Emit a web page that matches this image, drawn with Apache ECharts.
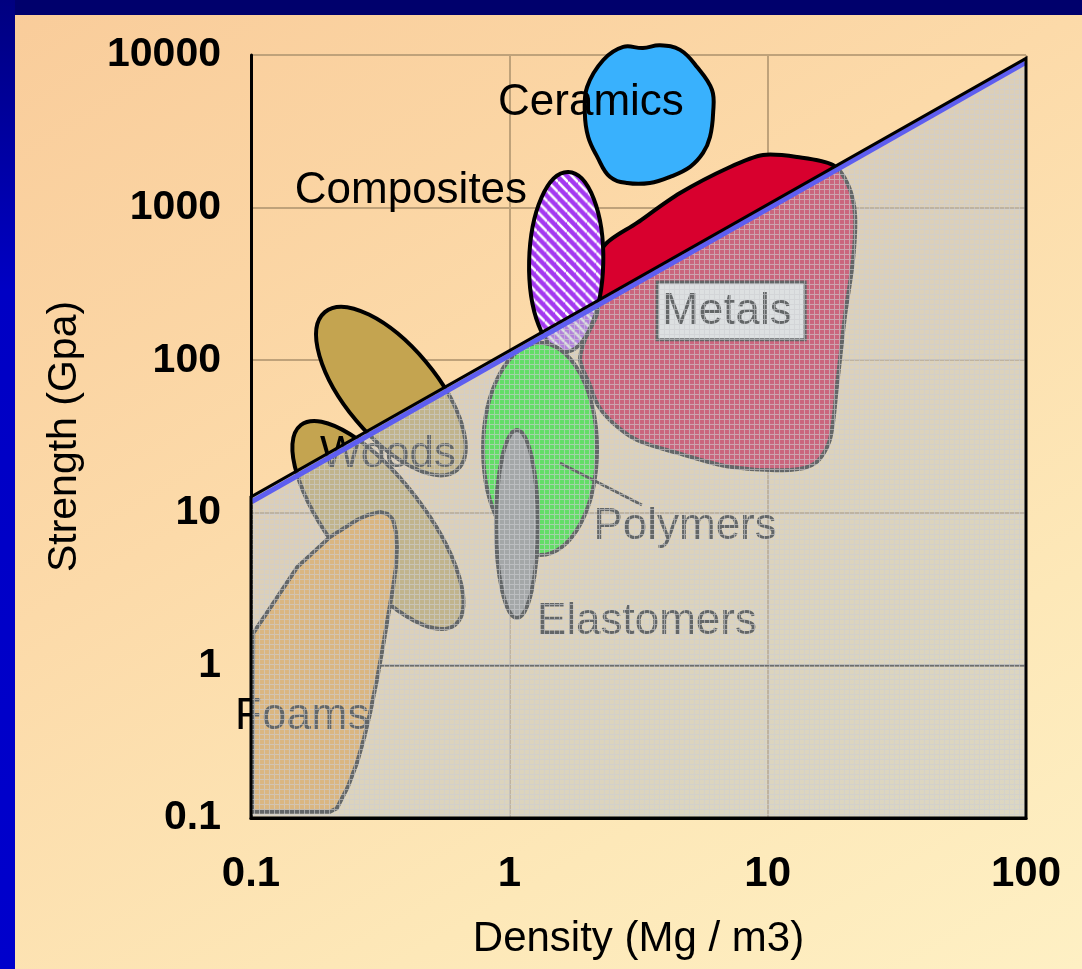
<!DOCTYPE html>
<html>
<head>
<meta charset="utf-8">
<title>Strength vs Density</title>
<script src="https://cdn.jsdelivr.net/npm/echarts@6.0.0/dist/echarts.min.js"></script>
<style>
  html, body { margin: 0; padding: 0; width: 1082px; height: 969px; overflow: hidden; }
  #slide {
    position: relative; width: 1082px; height: 969px;
    background: linear-gradient(150deg, #f9cc9a 0%, #fcdaa9 40%, #fde8b8 75%, #fef0c4 100%);
  }
  #topbar { position: absolute; left: 0; top: 0; width: 1082px; height: 15px; background: #00006c; }
  #leftbar { position: absolute; left: 0; top: 0; width: 15px; height: 969px;
    background: linear-gradient(to bottom, #000080, #0000c4 30%, #0000cc); }
  #chart { position: absolute; left: 0; top: 0; width: 1082px; height: 969px; }
</style>
</head>
<body>
<div id="slide">
  <div id="topbar"></div>
  <div id="leftbar"></div>
  <div id="chart"></div>
</div>
<script>
// tick labels
const xTickLabels = ['0.1', '1', '10', '100']
const yTickLabels = ['0.1', '1', '10', '100', '1000', '10000']

// outlines, [density, strength]
const ceramicsOutline = [
  [2.31, 9270], [2.76, 11300], [3.29, 11100], [3.83, 11600], [4.58, 10800],
  [5.33, 8340], [6.09, 5900], [6.15, 4170], [5.98, 2900], [5.62, 2280],
  [5.01, 1850], [4.19, 1590], [3.5, 1450], [2.86, 1450], [2.45, 1590],
  [2.19, 2150], [2.02, 2900], [1.96, 4170], [2.0, 6170]
]
const metalsOutline = [
  [2.31, 552], [3.12, 793], [4.58, 1246], [7.15, 1846], [9.6, 2212],
  [13.0, 2146], [17.9, 1902], [20.5, 1406], [21.8, 894], [21.4, 454],
  [19.9, 192], [18.6, 71], [17.4, 30], [15.3, 21.2], [12.2, 19.1],
  [7.15, 20], [4.46, 24.7], [3.12, 30], [2.52, 38.8], [2.2, 50.9],
  [2.05, 68.8], [1.88, 100], [1.96, 136], [2.19, 204], [2.24, 336]
]
const foamsOutline = [
  [0.101, 0.11], [0.102, 1.63], [0.115, 2.2], [0.151, 4.41], [0.202, 6.94],
  [0.257, 8.97], [0.284, 9.67], [0.316, 10.1], [0.339, 9.82], [0.355, 8.97],
  [0.364, 7.48], [0.367, 5.97], [0.364, 4.41], [0.355, 3.27], [0.339, 2.08],
  [0.324, 1.32], [0.307, 0.80], [0.289, 0.488], [0.274, 0.334], [0.257, 0.229],
  [0.237, 0.16], [0.215, 0.116], [0.202, 0.11]
]

// ellipses: centre, end of long axis, end of short axis
const compositesEllipse = [[1.66, 440], [1.69, 1711], [2.31, 440]]
const woodsEllipseA = [[0.348, 62.8], [0.627, 19.1], [0.476, 97.3]]
const woodsEllipseB = [[0.31, 8.32], [0.616, 1.84], [0.431, 12.9]]
const polymersEllipse = [[1.315, 26.2], [1.315, 130], [2.185, 26.2]]
const elastomersEllipse = [[1.07, 8.45], [1.07, 34.9], [1.29, 8.45]]

// guide line and shaded zone below it
const limitLine = [[0.1, 12.7], [100, 9500]]
const shadeOutline = [[0.1, 0.1], [0.1, 12.7], [100, 9500], [100, 0.1]]
const unitLine = [[0.1, 1], [100, 1]]

// labels
const labelNames = ['Ceramics', 'Composites', 'Metals', 'Woods', 'Polymers', 'Elastomers', 'Foams']
const labelPoints = [
  [2.07, 4850], [0.416, 1290], [6.96, 207], [0.339, 23.9],
  [4.79, 8.07], [3.41, 1.92], [0.158, 0.459]
]
const metalsBox = [[3.73, 326], [13.96, 136]]
const polymersPointer = [[1.57, 21.2], [3.26, 11.25]]

// fill patterns
function stripes () {
  const c = document.createElement('canvas')
  c.width = 10; c.height = 10
  const g = c.getContext('2d')
  g.fillStyle = '#a438f0'
  g.fillRect(0, 0, 10, 10)
  g.strokeStyle = '#ffffff'
  g.lineWidth = 2.6
  for (const k of [-10, 0, 10]) {
    g.beginPath(); g.moveTo(k, 10); g.lineTo(k + 10, 0); g.stroke()
  }
  return c
}
function mesh () {
  const c = document.createElement('canvas')
  c.width = 5; c.height = 5
  const g = c.getContext('2d')
  g.fillStyle = 'rgba(190,196,198,0.52)'
  g.fillRect(0, 0, 5, 5)
  g.fillStyle = 'rgba(205,205,210,0.6)'
  g.fillRect(4, 0, 1, 5)
  g.fillRect(0, 4, 4, 1)
  return c
}
const stripePattern = { image: stripes(), repeat: 'repeat' }
const meshPattern = { image: mesh(), repeat: 'repeat' }

const OUTLINE = { stroke: '#000', lineWidth: 4 }

function polySeries (pts, fill, smooth) {
  return {
    type: 'custom', clip: false, silent: true, data: pts,
    renderItem: (params, api) => params.dataIndex ? null : {
      type: 'polygon',
      shape: { points: pts.map(p => api.coord(p)), smooth: smooth },
      style: Object.assign({ fill: fill }, OUTLINE)
    }
  }
}
function ellipseSeries (e, fill) {
  return {
    type: 'custom', clip: false, silent: true, data: [e[0]],
    renderItem: (params, api) => {
      const c = api.coord(e[0])
      const a = api.coord(e[1])
      const b = api.coord(e[2])
      return {
        type: 'ellipse',
        x: c[0], y: c[1],
        rotation: Math.atan2(-(a[1] - c[1]), a[0] - c[0]),
        shape: {
          cx: 0, cy: 0,
          rx: Math.hypot(a[0] - c[0], a[1] - c[1]),
          ry: Math.hypot(b[0] - c[0], b[1] - c[1])
        },
        style: Object.assign({ fill: fill }, OUTLINE)
      }
    }
  }
}
function lineSeries (pts, color, width) {
  return {
    type: 'custom', clip: false, silent: true, data: [pts[0]],
    renderItem: (params, api) => {
      const p = api.coord(pts[0])
      const q = api.coord(pts[1])
      return { type: 'line', shape: { x1: p[0], y1: p[1], x2: q[0], y2: q[1] }, style: { stroke: color, lineWidth: width } }
    }
  }
}

const myChart = echarts.init(document.getElementById('chart'))

const option = {
  backgroundColor: 'transparent',
  animation: false,
  grid: { left: 251, right: 56, top: 55, bottom: 151 },
  xAxis: {
    type: 'log', logBase: 10, min: 0.1, max: 100,
    axisLine: { lineStyle: { color: '#000', width: 3 } },
    axisTick: { show: false },
    splitLine: { show: true, lineStyle: { color: '#bfa27a', width: 2 } },
    axisLabel: {
      formatter: (v) => xTickLabels[Math.round(Math.log10(v)) + 1],
      showMinLabel: true, showMaxLabel: true,
      color: '#000', fontFamily: 'Liberation Sans', fontWeight: 'bold', fontSize: 42, margin: 35
    },
    name: 'Density (Mg / m3)',
    nameLocation: 'middle',
    nameGap: 100,
    nameTextStyle: { color: '#000', fontFamily: 'Liberation Sans', fontSize: 42 }
  },
  yAxis: {
    type: 'log', logBase: 10, min: 0.1, max: 10000,
    axisLine: { lineStyle: { color: '#000', width: 3 } },
    axisTick: { show: false },
    splitLine: { show: true, lineStyle: { color: '#bfa27a', width: 2 } },
    axisLabel: {
      formatter: (v) => yTickLabels[Math.round(Math.log10(v)) + 1],
      showMinLabel: true, showMaxLabel: true,
      color: '#000', fontFamily: 'Liberation Sans', fontWeight: 'bold', fontSize: 41, margin: 30
    },
    name: 'Strength (Gpa)',
    nameLocation: 'middle',
    nameGap: 166,
    nameTextStyle: { color: '#000', fontFamily: 'Liberation Sans', fontSize: 41 }
  },
  series: [
    lineSeries(unitLine, '#111', 2),
    polySeries(metalsOutline, '#d8002e', 0.3),
    ellipseSeries(compositesEllipse, stripePattern),
    polySeries(ceramicsOutline, '#39b1fd', 0.4),
    ellipseSeries(woodsEllipseA, '#c4a450'),
    ellipseSeries(woodsEllipseB, '#c4a450'),
    polySeries(foamsOutline, '#f8a838', 0),
    ellipseSeries(polymersEllipse, '#00f800'),
    ellipseSeries(elastomersEllipse, '#888888'),
    {
      // box behind the Metals label
      type: 'custom', clip: false, silent: true, data: [metalsBox[0]],
      renderItem: (params, api) => {
        const p = api.coord(metalsBox[0])
        const q = api.coord(metalsBox[1])
        return { type: 'rect', shape: { x: p[0], y: p[1], width: q[0] - p[0], height: q[1] - p[1] }, style: { fill: '#fff', stroke: '#000', lineWidth: 3 } }
      }
    },
    lineSeries(polymersPointer, '#000', 3),
    {
      type: 'custom', clip: false, silent: true, data: labelPoints,
      renderItem: (params, api) => {
        const p = api.coord([api.value(0), api.value(1)])
        return {
          type: 'text', x: p[0], y: p[1],
          style: { text: labelNames[params.dataIndex], fill: '#000', font: '44px "Liberation Sans"', align: 'center', verticalAlign: 'middle' }
        }
      }
    },
    {
      // shaded zone under the guide line
      type: 'custom', clip: false, silent: true, data: [shadeOutline[0]],
      renderItem: (params, api) => {
        const pts = shadeOutline.map(p => api.coord(p))
        const a = api.coord(limitLine[0])
        const b = api.coord(limitLine[1])
        return {
          type: 'group',
          children: [
            { type: 'polygon', shape: { points: pts }, style: { fill: meshPattern } },
            { type: 'line', shape: { x1: a[0] + 1, y1: a[1] + 4.5, x2: b[0] - 1, y2: b[1] + 4.5 }, style: { stroke: '#5e5ef0', lineWidth: 5 } },
            { type: 'polygon', shape: { points: pts }, style: { fill: null, stroke: '#000', lineWidth: 3 } }
          ]
        }
      }
    }
  ]
}

myChart.setOption(option)
</script>
</body>
</html>
